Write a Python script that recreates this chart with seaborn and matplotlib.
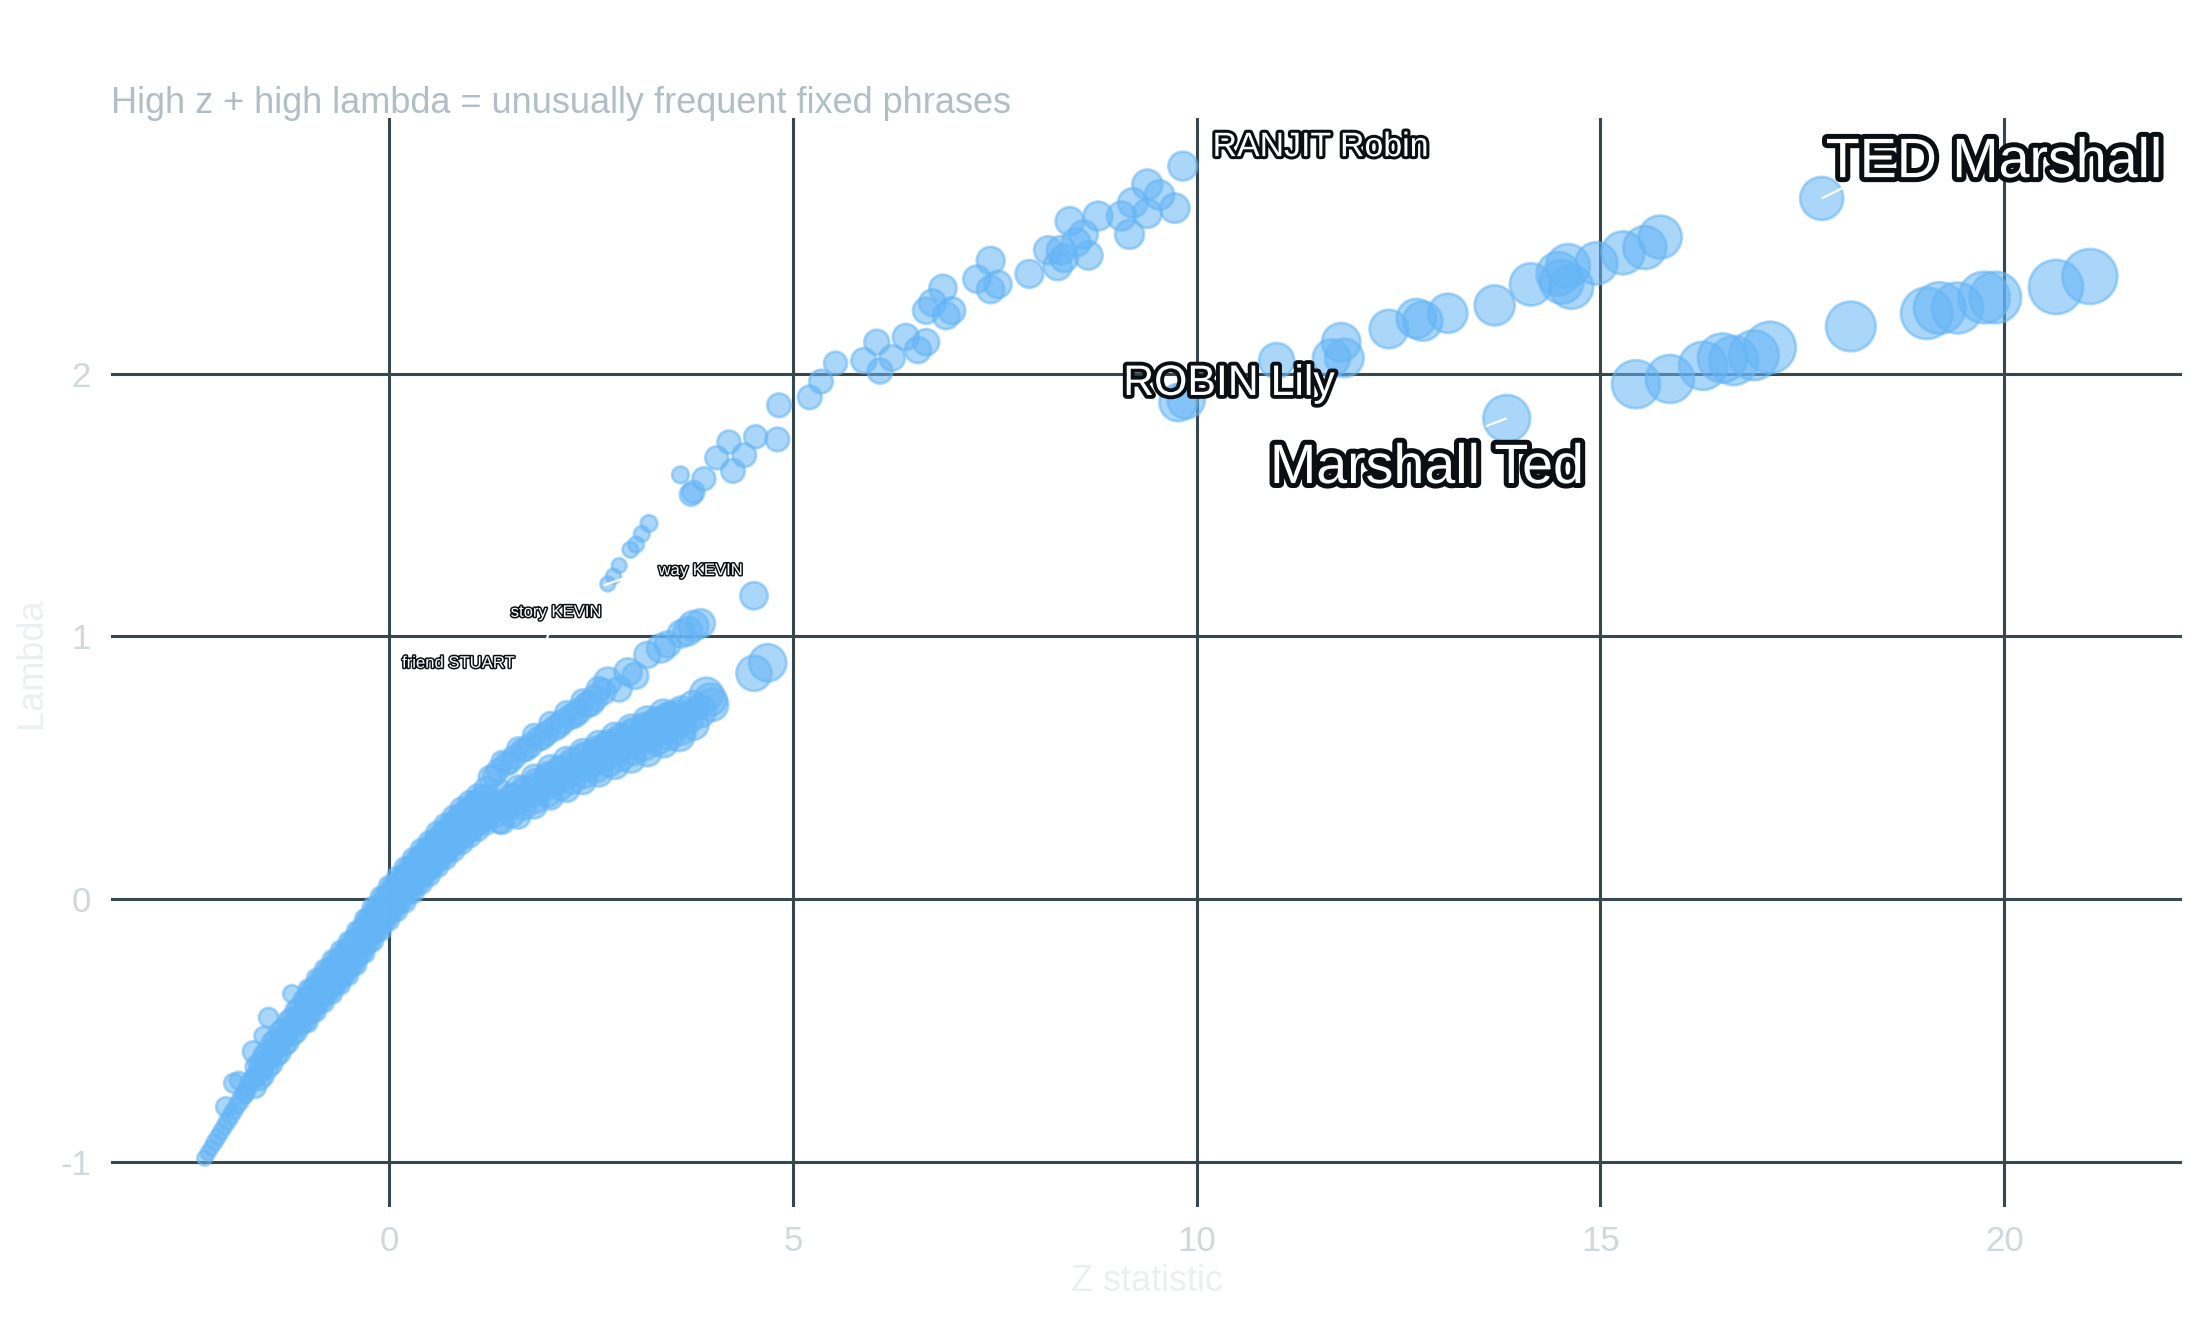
import numpy as np
import pandas as pd
import matplotlib
matplotlib.use("Agg")
import matplotlib.pyplot as plt
import matplotlib.patheffects as pe
import seaborn as sns

# ---- data (z statistic, lambda, bigram count) ----
# lower tail of the main band
tail_z = [-2.28, -2.24, -2.20, -2.16, -2.12, -2.08, -2.04, -2.00, -1.96, -1.92,
          -1.88, -1.84, -1.80, -1.76, -1.72, -1.68]
tail_lam = [-0.985, -0.965, -0.945, -0.925, -0.905, -0.885, -0.865, -0.845, -0.825, -0.805,
            -0.785, -0.765, -0.745, -0.725, -0.70, -0.68]
tail_n = [7, 7, 7, 8, 8, 8, 8, 9, 9, 9, 9, 10, 10, 10, 11, 11]

# stray bigger points on the left edge of the band
side_z = [-1.68, -1.92, -2.02, -1.78, -1.49, -1.20, -1.86, -1.55]
side_lam = [-0.58, -0.70, -0.79, -0.74, -0.45, -0.36, -0.69, -0.52]
side_n = [14, 12, 12, 10, 12, 10, 10, 11]

# dense band, rows at whole tenths of z
bc_z = [-1.6, -1.5, -1.4, -1.3, -1.2, -1.1, -1.0, -0.9, -0.8, -0.7,
        -0.6, -0.5, -0.4, -0.3, -0.2, -0.1, 0.0, 0.1, 0.2, 0.3,
        0.4, 0.5, 0.6, 0.7, 0.8, 0.9, 1.0, 1.1, 1.2]
bc_lam = [-0.655, -0.61, -0.565, -0.525, -0.485, -0.445, -0.405, -0.365, -0.33, -0.295,
          -0.26, -0.225, -0.185, -0.14, -0.095, -0.055, -0.015, 0.02, 0.055, 0.09,
          0.125, 0.155, 0.19, 0.22, 0.25, 0.28, 0.305, 0.33, 0.355]
bcu_lam = [-0.625, -0.58, -0.535, -0.495, -0.455, -0.415, -0.375, -0.335, -0.30, -0.265,
           -0.23, -0.195, -0.155, -0.11, -0.065, -0.025, 0.015, 0.05, 0.085, 0.12,
           0.155, 0.185, 0.22, 0.25, 0.28, 0.31, 0.335, 0.36, 0.385]
bcl_lam = [-0.685, -0.64, -0.595, -0.555, -0.515, -0.475, -0.435, -0.395, -0.36, -0.325,
           -0.29, -0.255, -0.215, -0.17, -0.125, -0.085, -0.045, -0.01, 0.025, 0.06,
           0.095, 0.125, 0.16, 0.19, 0.22, 0.25, 0.275, 0.30, 0.325]
bc_n = [15, 15, 16, 16, 16, 17, 17, 17, 17, 18,
        18, 18, 18, 18, 19, 19, 19, 19, 19, 20,
        20, 20, 20, 20, 21, 21, 21, 22, 22]

# dense band, rows at half tenths of z
bi_z = [-1.65, -1.55, -1.45, -1.35, -1.25, -1.15, -1.05, -0.95, -0.85, -0.75,
        -0.65, -0.55, -0.45, -0.35, -0.25, -0.15, -0.05, 0.05, 0.15, 0.25,
        0.35, 0.45, 0.55, 0.65, 0.75, 0.85, 0.95, 1.05, 1.15]
bim_lam = [-0.677, -0.632, -0.587, -0.545, -0.505, -0.465, -0.425, -0.385, -0.347, -0.312,
           -0.277, -0.242, -0.205, -0.163, -0.118, -0.075, -0.035, 0.003, 0.037, 0.072,
           0.107, 0.14, 0.172, 0.205, 0.235, 0.265, 0.292, 0.318, 0.342]
bu1_lam = [-0.637, -0.592, -0.547, -0.505, -0.465, -0.425, -0.385, -0.345, -0.307, -0.272,
           -0.237, -0.202, -0.165, -0.123, -0.078, -0.035, 0.005, 0.043, 0.077, 0.112,
           0.147, 0.18, 0.212, 0.245, 0.275, 0.305, 0.332, 0.358, 0.382]
bl1_lam = [-0.717, -0.672, -0.627, -0.585, -0.545, -0.505, -0.465, -0.425, -0.387, -0.352,
           -0.317, -0.282, -0.245, -0.203, -0.158, -0.115, -0.075, -0.037, -0.003, 0.032,
           0.067, 0.10, 0.132, 0.165, 0.195, 0.225, 0.252, 0.278, 0.302]
bi_n = [13, 13, 14, 14, 14, 15, 15, 15, 15, 16,
        16, 16, 16, 16, 17, 17, 17, 17, 17, 18,
        18, 18, 18, 19, 19, 19, 20, 20, 20]

# dense band, outer rows
bo_z = [-1.0, -0.9, -0.8, -0.7, -0.6, -0.5, -0.4, -0.3, -0.2, -0.1,
        0.0, 0.1, 0.2, 0.3, 0.4, 0.5, 0.6, 0.7, 0.8, 0.9,
        1.0, 1.1, 1.2]
bu2_lam = [-0.34, -0.30, -0.265, -0.23, -0.195, -0.16, -0.12, -0.075, -0.03, 0.01,
           0.05, 0.085, 0.12, 0.155, 0.19, 0.22, 0.255, 0.285, 0.315, 0.345,
           0.37, 0.395, 0.42]
bl2_lam = [-0.47, -0.43, -0.395, -0.36, -0.325, -0.29, -0.25, -0.205, -0.16, -0.12,
           -0.08, -0.045, -0.01, 0.025, 0.06, 0.09, 0.125, 0.155, 0.185, 0.215,
           0.24, 0.265, 0.29]
bo_n = [11, 11, 11, 12, 12, 12, 12, 12, 13, 13,
        13, 13, 14, 14, 14, 14, 15, 15, 15, 16,
        16, 16, 17]

# narrow upper branch after the split
nb_z = [1.25, 1.35, 1.45, 1.55, 1.65, 1.75, 1.85, 1.95, 2.05, 2.15,
        2.25, 2.35, 2.45, 2.55, 2.65, 1.40, 1.60, 1.80, 2.00, 2.20,
        2.40, 2.60, 1.30, 1.50, 1.70, 1.90, 2.10, 2.30, 2.50]
nb_lam = [0.465, 0.49, 0.515, 0.54, 0.565, 0.585, 0.61, 0.63, 0.65, 0.675,
          0.695, 0.715, 0.74, 0.765, 0.79, 0.525, 0.575, 0.625, 0.67, 0.71,
          0.755, 0.80, 0.47, 0.52, 0.57, 0.615, 0.66, 0.70, 0.745]
nb_n = [16, 16, 17, 17, 17, 18, 18, 18, 19, 19,
        19, 20, 20, 21, 21, 14, 15, 16, 16, 17,
        17, 19, 15, 15, 16, 17, 18, 19, 20]

# wide lower branch after the split
lw_z = [1.30, 1.45, 1.60, 1.75, 1.90, 2.05, 2.20, 2.35, 2.50, 2.65,
        2.80, 2.95, 3.10, 3.25, 3.40, 3.55, 3.70, 3.85, 4.00,
        1.40, 1.60, 1.80, 2.00, 2.20, 2.40, 2.60, 2.80, 3.00, 3.20, 3.40,
        1.40, 1.60, 1.80, 2.00, 2.20, 2.40, 2.60, 2.80, 3.00, 3.20, 3.40, 3.60,
        1.52, 1.68, 1.82, 1.97, 2.12, 2.28, 2.42, 2.58, 2.72, 2.88, 3.03, 3.18, 3.33, 3.48]
lw_lam = [0.32, 0.345, 0.37, 0.40, 0.425, 0.45, 0.475, 0.50, 0.52, 0.545,
          0.565, 0.59, 0.61, 0.63, 0.65, 0.67, 0.69, 0.715, 0.74,
          0.405, 0.425, 0.465, 0.50, 0.53, 0.56, 0.59, 0.62, 0.65, 0.68, 0.705,
          0.295, 0.315, 0.355, 0.39, 0.42, 0.45, 0.48, 0.51, 0.535, 0.56, 0.595, 0.62,
          0.385, 0.41, 0.43, 0.46, 0.485, 0.51, 0.535, 0.555, 0.58, 0.60, 0.625, 0.645, 0.665, 0.685]
lw_n = [20, 21, 21, 22, 23, 24, 24, 25, 26, 27,
        28, 28, 29, 30, 30, 31, 32, 33, 34,
        19, 19, 20, 21, 22, 22, 23, 24, 25, 26, 27,
        19, 19, 20, 21, 22, 22, 23, 24, 25, 26, 27, 28,
        20, 21, 22, 23, 24, 25, 26, 27, 28, 29, 30, 30, 31, 32]

# lower branch, extra rows
lx_z = [1.37, 1.52, 1.67, 1.82, 1.97, 2.12, 2.27, 2.42, 2.57, 2.72,
        2.87, 3.02, 3.17, 3.32, 3.47, 3.62, 3.77]
lxu_lam = [0.368, 0.392, 0.42, 0.447, 0.472, 0.497, 0.522, 0.545, 0.567, 0.59,
           0.612, 0.635, 0.655, 0.675, 0.695, 0.715, 0.735]
lxl_lam = [0.298, 0.322, 0.35, 0.377, 0.402, 0.427, 0.452, 0.475, 0.497, 0.52,
           0.542, 0.565, 0.585, 0.605, 0.625, 0.645, 0.665]
lx_n = [19, 20, 20, 21, 22, 22, 23, 24, 24, 25,
        26, 26, 27, 28, 28, 29, 30]

# middle group between z = 2.7 and 4.7
mid_z = [2.71, 2.85, 2.96, 3.05, 3.20, 3.37, 3.45, 3.62, 3.70, 3.77,
         3.86, 4.52, 3.48, 3.58, 3.93, 3.98, 4.52, 4.69]
mid_lam = [0.83, 0.80, 0.865, 0.85, 0.93, 0.955, 0.97, 1.01, 1.02, 1.04,
           1.05, 1.155, 0.69, 0.70, 0.78, 0.76, 0.86, 0.90]
mid_n = [24, 20, 24, 22, 22, 26, 22, 24, 26, 29,
         26, 24, 28, 30, 36, 34, 40, 45]

# steep chain up to RANJIT Robin
ch_z = [2.71, 2.78, 2.85, 2.99, 3.06, 3.13, 3.22, 3.61, 3.74, 3.77,
        3.90, 4.06, 4.21, 4.26, 4.40, 4.54, 4.81, 4.83, 5.21, 5.35,
        5.53, 5.88, 6.04, 6.08, 6.23, 6.40, 6.55, 6.65, 6.65, 6.73,
        6.86, 6.90, 6.97, 7.28, 7.45, 7.45, 7.54, 7.93, 8.16, 8.28,
        8.32, 8.36, 8.43, 8.51, 8.60, 8.66, 8.78, 9.07, 9.17, 9.21,
        9.39, 9.39, 9.54, 9.73, 9.83]
ch_lam = [1.20, 1.23, 1.27, 1.33, 1.35, 1.39, 1.43, 1.615, 1.54, 1.55,
          1.60, 1.68, 1.74, 1.63, 1.69, 1.76, 1.75, 1.88, 1.91, 1.97,
          2.04, 2.05, 2.12, 2.01, 2.06, 2.14, 2.09, 2.12, 2.24, 2.27,
          2.325, 2.22, 2.24, 2.36, 2.43, 2.32, 2.34, 2.38, 2.47, 2.41,
          2.47, 2.44, 2.58, 2.50, 2.53, 2.45, 2.60, 2.60, 2.53, 2.65,
          2.72, 2.61, 2.68, 2.63, 2.79]
ch_n = [7, 7, 7, 8, 8, 8, 9, 9, 16, 16,
        17, 17, 17, 18, 18, 17, 18, 18, 18, 18,
        17, 20, 20, 20, 21, 22, 22, 22, 22, 23,
        24, 23, 23, 24, 25, 24, 24, 25, 25, 26,
        26, 25, 26, 26, 26, 26, 27, 27, 27, 28,
        29, 27, 28, 28, 27]

# branch from ROBIN Lily up to z ~ 15.7
b2_z = [9.77, 9.87, 10.99, 11.67, 11.79, 11.83, 12.38, 12.72, 12.80, 13.11,
        13.69, 14.14, 14.48, 14.52, 14.60, 14.64, 14.95, 15.28, 15.55, 15.74]
b2_lam = [1.89, 1.90, 2.05, 2.06, 2.12, 2.06, 2.17, 2.21, 2.20, 2.23,
          2.26, 2.34, 2.38, 2.35, 2.41, 2.33, 2.42, 2.46, 2.48, 2.52]
b2_n = [45, 45, 40, 45, 48, 48, 48, 50, 50, 50,
        52, 58, 62, 62, 62, 62, 58, 60, 60, 60]

# lowest right branch
b3_z = [15.44, 15.86, 16.27, 16.51, 16.65, 16.90, 17.10, 18.10, 19.04, 19.20,
        19.42, 19.75, 19.89, 20.64, 21.06]
b3_lam = [1.96, 1.98, 2.03, 2.06, 2.05, 2.07, 2.10, 2.18, 2.23, 2.25,
          2.25, 2.29, 2.29, 2.33, 2.37]
b3_n = [75, 75, 75, 78, 78, 80, 86, 80, 86, 86,
        84, 86, 86, 95, 98]

# two isolated names
iso_z = [17.74, 13.84]
iso_lam = [2.667, 1.83]
iso_n = [60, 71]

# labels: text, x centre, baseline y, font size
lab_text = ["TED Marshall", "Marshall Ted", "ROBIN Lily", "RANJIT Robin",
            "way KEVIN", "story KEVIN", "friend STUART"]
lab_x = [19.87, 12.85, 10.40, 11.53, 3.86, 2.07, 0.86]
lab_y = [2.748, 1.584, 1.919, 2.828, 1.234, 1.075, 0.881]
lab_size = [20, 20, 15.4, 12.2, 6, 6, 6]

# leader segments (from point towards label)
seg_x0 = [17.74, 13.84, 2.66, 1.93]
seg_y0 = [2.667, 1.83, 1.195, 0.97]
seg_x1 = [18.02, 13.58, 3.28, 2.01]
seg_y1 = [2.71, 1.80, 1.26, 1.04]

groups = [
    (tail_z, tail_lam, tail_n), (side_z, side_lam, side_n),
    (bo_z, bu2_lam, bo_n), (bo_z, bl2_lam, bo_n),
    (bi_z, bu1_lam, bi_n), (bi_z, bl1_lam, bi_n), (bi_z, bim_lam, bi_n),
    (bc_z, bcu_lam, bc_n), (bc_z, bcl_lam, bc_n), (bc_z, bc_lam, bc_n),
    (nb_z, nb_lam, nb_n), (lw_z, lw_lam, lw_n),
    (lx_z, lxu_lam, lx_n), (lx_z, lxl_lam, lx_n), (mid_z, mid_lam, mid_n),
    (ch_z, ch_lam, ch_n), (b2_z, b2_lam, b2_n), (b3_z, b3_lam, b3_n),
    (iso_z, iso_lam, iso_n),
]
df = pd.concat([pd.DataFrame({"z": z, "lam": l, "n": n}) for z, l, n in groups],
               ignore_index=True)

# ---- plot ----
sns.set_style("white")
plt.rcParams["font.family"] = ["Liberation Sans", "DejaVu Sans"]
plt.rcParams["axes.unicode_minus"] = False

fig = plt.figure(figsize=(11, 6.6), dpi=200)
ax = fig.add_axes([0.0505, 0.0856, 0.9413, 0.825])

sns.scatterplot(data=df, x="z", y="lam", size="n", sizes=(20, 400),
                size_norm=(5, 100), color="#64b5f6", alpha=0.55,
                edgecolor="#64b5f6", linewidth=1.0, legend=False, ax=ax)

for x0, y0, x1, y1 in zip(seg_x0, seg_y0, seg_x1, seg_y1):
    ax.plot([x0, x1], [y0, y1], color="white", lw=0.8, zorder=4,
            solid_capstyle="butt")

for t, x, y, fs in zip(lab_text, lab_x, lab_y, lab_size):
    ax.text(x, y, t, fontsize=fs, color="white", ha="center", va="baseline",
            zorder=5,
            path_effects=[pe.withStroke(linewidth=fs * 0.18, foreground="#0b0f14")])

ax.set_xlim(-3.44, 22.2)
ax.set_ylim(-1.171, 2.973)
ax.set_xticks([0, 5, 10, 15, 20])
ax.set_yticks([-1, 0, 1, 2])
ax.grid(True, color="#37474f", linewidth=1.1)
ax.set_axisbelow(True)
for s in ax.spines.values():
    s.set_visible(False)
ax.tick_params(axis="both", length=0, labelsize=12.5, colors="#cfd8dc")
ax.tick_params(axis="x", pad=6.5)
ax.tick_params(axis="y", pad=7.2)

ax.set_xlabel("Z statistic", fontsize=13, color="#eceff1")
ax.xaxis.label.set_va("center")
ax.xaxis.set_label_coords(0.5, -0.068)
ax.set_ylabel("Lambda", fontsize=13, color="#eceff1")
ax.yaxis.label.set_va("center")
ax.yaxis.set_label_coords(-0.0386, 0.5)

ax.set_title("High z + high lambda = unusually frequent fixed phrases",
             loc="left", fontsize=13, color="#b0bec5", pad=1.8)

fig.savefig("out.png", dpi=200, facecolor="white")
